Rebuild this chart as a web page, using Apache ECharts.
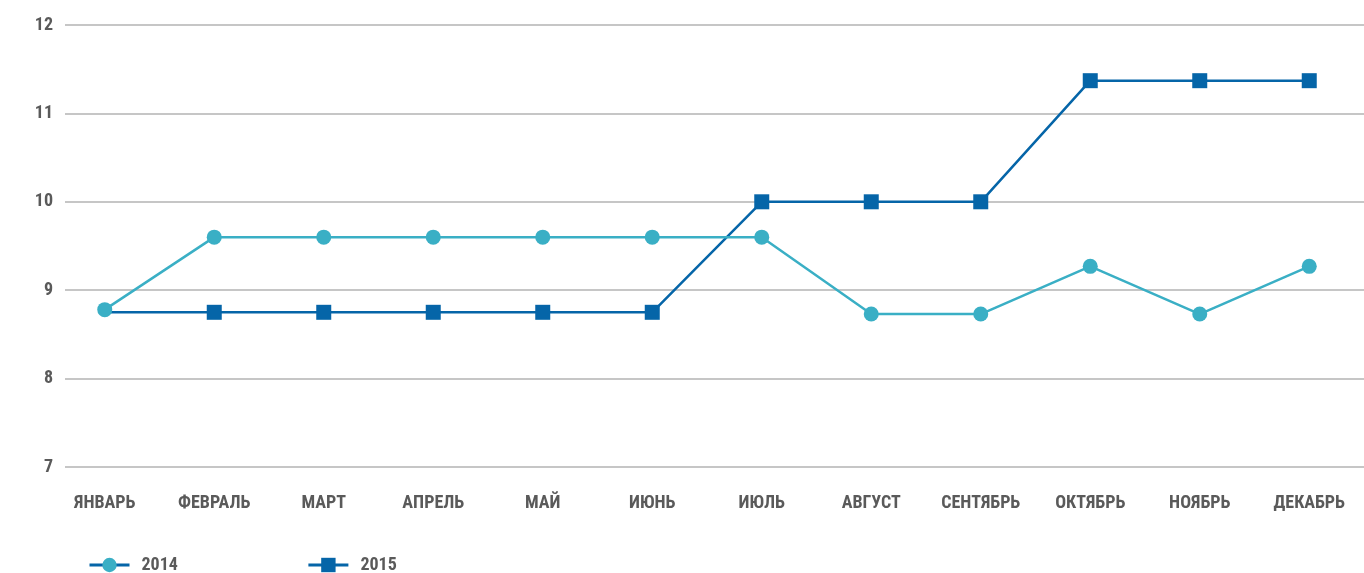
<!DOCTYPE html>
<html><head><meta charset="utf-8">
<script src="https://cdn.jsdelivr.net/npm/echarts@6/dist/echarts.min.js"></script>
<style>html,body{margin:0;padding:0;background:#fff}#c{width:1364px;height:573px}</style>
</head><body><div id="c"></div>
<script>
const categories = ['ЯНВАРЬ','ФЕВРАЛЬ','МАРТ','АПРЕЛЬ','МАЙ','ИЮНЬ','ИЮЛЬ','АВГУСТ','СЕНТЯБРЬ','ОКТЯБРЬ','НОЯБРЬ','ДЕКАБРЬ'];
const series2014 = [8.78, 9.6, 9.6, 9.6, 9.6, 9.6, 9.6, 8.73, 8.73, 9.27, 8.73, 9.27];
const series2015 = [8.75, 8.75, 8.75, 8.75, 8.75, 8.75, 10.0, 10.0, 10.0, 11.37, 11.37, 11.37];
const yMin = 7, yMax = 12, yStep = 1;

const FONT = "'Liberation Sans Narrow','Roboto Condensed','Roboto',sans-serif";
const C14 = '#3aafc5', C15 = '#0565a8', TXT = '#5a5a5a';
const chart = echarts.init(document.getElementById('c'), null, {renderer:'canvas'});
chart.setOption({
  animation:false,
  grid:[
    {left:65, right:0, top:25, bottom:106},
    {left:50, right:0, top:25, bottom:106}
  ],
  legend:{
    left:88, top:556, padding:0, itemWidth:40, itemHeight:18, itemGap:129,
    textStyle:{fontFamily:FONT, fontWeight:'bold', fontSize:18, color:TXT, padding:[0,0,0,7]},
    data:[
      {name:'2014', lineStyle:{color:C15, width:3}},
      {name:'2015', lineStyle:{color:C15, width:3}}
    ]
  },
  xAxis:[
    {type:'category', gridIndex:0, data:categories, show:false},
    {type:'category', gridIndex:1, data:categories, boundaryGap:true,
     axisLine:{show:false}, axisTick:{show:false},
     axisLabel:{margin:27, fontFamily:FONT, fontWeight:'bold', fontSize:18, color:TXT, interval:0}}
  ],
  yAxis:[
    {type:'value', gridIndex:0, min:yMin, max:yMax, interval:yStep,
     axisLine:{show:false}, axisTick:{show:false},
     axisLabel:{margin:12, fontFamily:FONT, fontWeight:'bold', fontSize:18, color:TXT},
     splitLine:{lineStyle:{color:'#b3b3b3', width:1.5}}},
    {type:'value', gridIndex:1, min:yMin, max:yMax, interval:yStep, show:false, splitLine:{show:false}}
  ],
  series:[
    {name:'2015', type:'line', xAxisIndex:1, yAxisIndex:1, z:2,
     data: series2015.map((v, i) => i === 0 ? {value: v, symbol: 'none'} : v),
     symbol:'rect', symbolSize:15, lineStyle:{color:C15, width:2.5}, itemStyle:{color:C15}},
    {name:'2014', type:'line', xAxisIndex:1, yAxisIndex:1, data:series2014, z:3,
     symbol:'circle', symbolSize:15, lineStyle:{color:C14, width:2.5}, itemStyle:{color:C14}}
  ]
});
</script></body></html>
